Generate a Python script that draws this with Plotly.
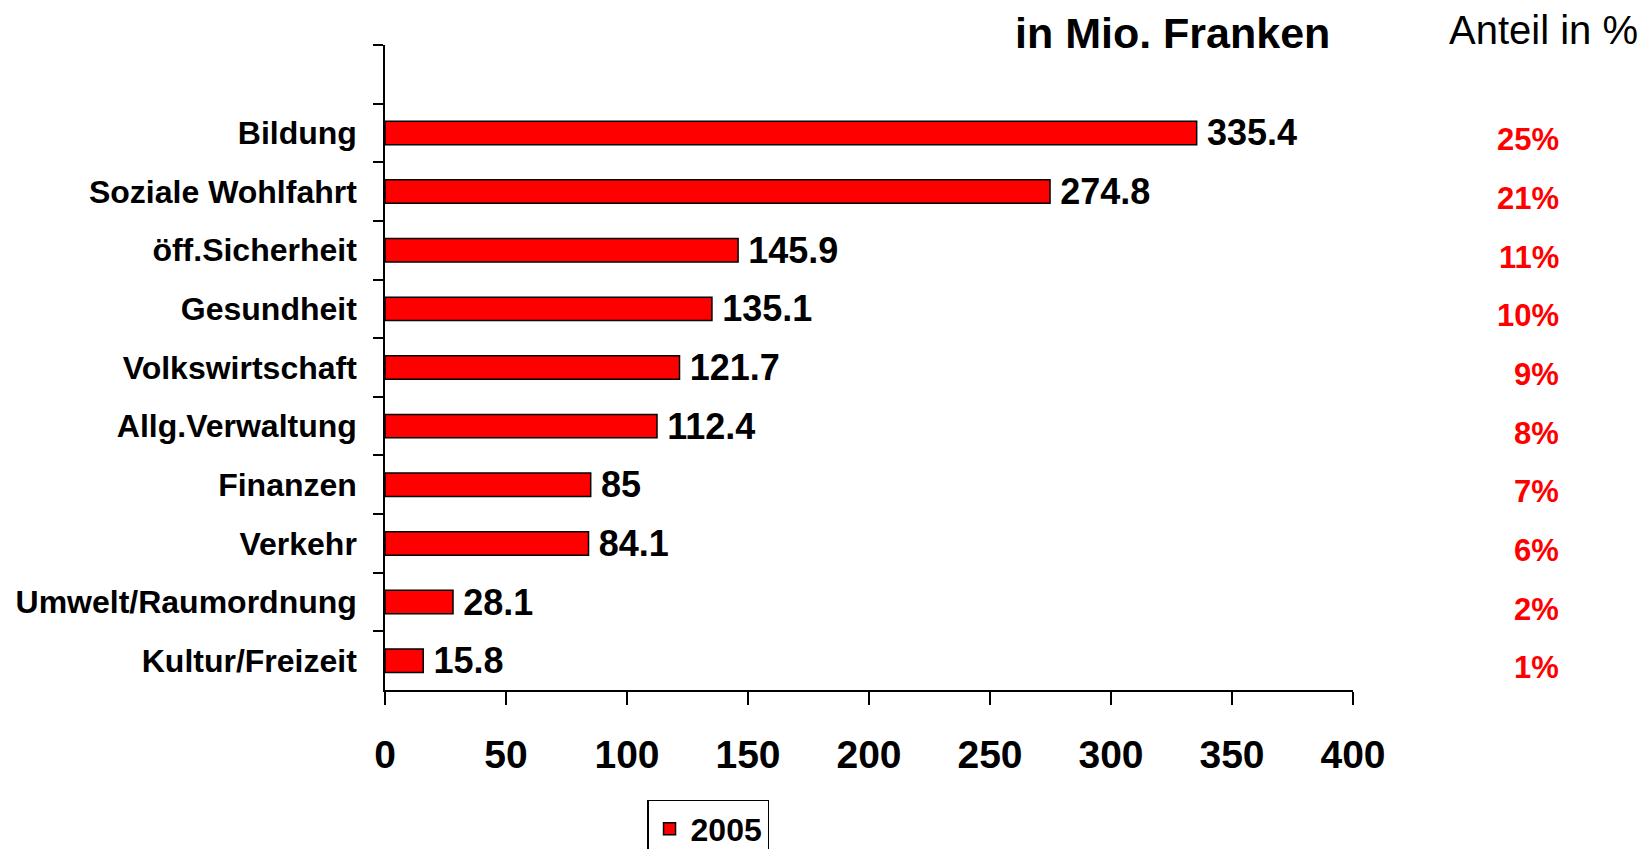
import plotly.graph_objects as go

# top slot of the chart is left empty, as in the original
categories = [
    " ",
    "Bildung",
    "Soziale Wohlfahrt",
    "öff.Sicherheit",
    "Gesundheit",
    "Volkswirtschaft",
    "Allg.Verwaltung",
    "Finanzen",
    "Verkehr",
    "Umwelt/Raumordnung",
    "Kultur/Freizeit",
]
values = [None, 335.4, 274.8, 145.9, 135.1, 121.7, 112.4, 85, 84.1, 28.1, 15.8]
shares = ["", "25%", "21%", "11%", "10%", "9%", "8%", "7%", "6%", "2%", "1%"]
x_ticks = [0, 50, 100, 150, 200, 250, 300, 350, 400]

FONT = "Liberation Sans, Arial, sans-serif"
RED = "#FF0000"

fig = go.Figure()
fig.add_trace(
    go.Bar(
        x=values,
        y=categories,
        orientation="h",
        name="2005",
        marker=dict(color=RED, line=dict(color="#000000", width=1.5)),
        text=[("" if v is None else "\u2009" + f"{v:g}") for v in values],
        textposition="outside",
        constraintext="none",
        cliponaxis=False,
        textfont=dict(family=FONT, size=36, color="#000000", weight="bold"),
        showlegend=True,
    )
)

# share column on the right
for cat, share in zip(categories, shares):
    if share:
        fig.add_annotation(
            x=1.2149, xref="paper", xanchor="right",
            y=cat, yref="y", yshift=-7,
            text=share, showarrow=False,
            font=dict(family=FONT, size=31, color=RED, weight="bold"),
        )

fig.add_annotation(
    x=0.978, xref="paper", xanchor="right",
    y=1.019, yref="paper", yanchor="middle",
    height=44,
    text="<b>in Mio. Franken</b>", showarrow=False,
    font=dict(family=FONT, size=43, color="#000000"),
)
fig.add_annotation(
    x=1.2965, xref="paper", xanchor="right",
    y=1.0225, yref="paper", yanchor="middle",
    height=42,
    text="Anteil in %", showarrow=False,
    font=dict(family=FONT, size=40, color="#000000"),
)

# page body adds 8px, so margins are shifted to keep the plot area in place
fig.update_layout(
    width=1647,
    height=849,
    margin=dict(l=377, r=302, t=37, b=167, autoexpand=False),
    plot_bgcolor="#FFFFFF",
    paper_bgcolor="#FFFFFF",
    font=dict(family=FONT, color="#000000"),
    bargap=0.6,
    showlegend=True,
    legend=dict(
        x=0.2707, xanchor="left",
        y=-0.1705, yanchor="top",
        bordercolor="#000000", borderwidth=1.5,
        font=dict(family=FONT, size=32, color="#000000", weight="bold"),
        itemwidth=32,
    ),
)
fig.update_xaxes(
    range=[0, 400],
    tickvals=x_ticks,
    ticks="outside",
    ticklen=13,
    tickwidth=1.5,
    tickcolor="#000000",
    showline=True,
    linecolor="#000000",
    linewidth=1.5,
    showgrid=False,
    zeroline=False,
    automargin=False,
    tickfont=dict(family=FONT, size=39, color="#000000", weight="bold"),
    ticklabelstandoff=16,
)
fig.update_yaxes(
    type="category",
    categoryorder="array",
    categoryarray=categories,
    autorange="reversed",
    tickson="boundaries",
    ticks="outside",
    ticklen=10,
    tickwidth=1.5,
    tickcolor="#000000",
    showline=True,
    linecolor="#000000",
    linewidth=1.5,
    showgrid=False,
    zeroline=False,
    automargin=False,
    tickfont=dict(family=FONT, size=32, color="#000000", weight="bold"),
    ticklabelstandoff=20,
)

fig.write_html("out.html")
